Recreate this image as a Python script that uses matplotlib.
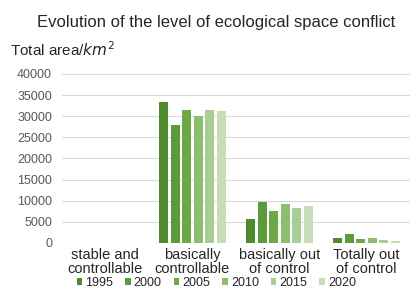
import matplotlib
matplotlib.use("Agg")
import matplotlib.pyplot as plt
import numpy as np

categories = ["stable and\ncontrollable", "basically\ncontrollable", "basically out\nof control", "Totally out\nof control"]
years = ["1995", "2000", "2005", "2010", "2015", "2020"]
values = {
    "1995": [0, 33300, 5600, 1200],
    "2000": [0, 27900, 9750, 2150],
    "2005": [0, 31450, 7650, 1000],
    "2010": [0, 29950, 9300, 1150],
    "2015": [0, 31450, 8350, 700],
    "2020": [0, 31300, 8800, 500],
}
colors = ["#4f8a2f", "#5c9b39", "#6ca944", "#8dbe6d", "#aacd96", "#c5deb6"]
yticks = [0, 5000, 10000, 15000, 20000, 25000, 30000, 35000, 40000]

plt.rcParams['font.family'] = ['Liberation Sans', 'DejaVu Sans']
fig = plt.figure(figsize=(4.12, 2.92), dpi=100)
ax = fig.add_axes([0.150, 0.168, 0.845, 0.579])

x = np.arange(len(categories))
step = 0.132
width = 0.105
handles = []
for i, y in enumerate(years):
    off = (i - (len(years) - 1) / 2) * step
    b = ax.bar(x + off, values[y], width, color=colors[i], label=y, zorder=3)
    handles.append(b)

ax.set_xlim(-0.5, len(categories) - 0.5)
ax.set_ylim(0, 40000)
ax.set_yticks(yticks)
ax.set_yticklabels([str(t) for t in yticks], fontsize=9, color="#595959")
ax.set_xticks(x)
ax.set_xticklabels(categories, fontsize=10.5, color="#262626", linespacing=1.0)
ax.tick_params(axis='y', length=0, pad=7)
ax.tick_params(axis='x', length=0, pad=4)
ax.grid(axis='y', color="#d9d9d9", linewidth=0.8, zorder=0)
for s in ax.spines.values():
    s.set_visible(False)

fig.text(0.525, 0.922, "Evolution of the level of ecological space conflict",
         ha="center", va="center", fontsize=12, color="#262626")
fig.text(0.025, 0.83, "Total area/$km^2$", ha="left", va="center", fontsize=11, color="#262626")

fig.legend(handles=handles, labels=years, loc="center", bbox_to_anchor=(0.525, 0.03),
           ncol=6, frameon=False, fontsize=9, handlelength=0.45, handleheight=0.45,
           handletextpad=0.25, columnspacing=0.95, labelcolor="#262626",
           borderpad=0.1)

fig.savefig("out.png", dpi=100)
